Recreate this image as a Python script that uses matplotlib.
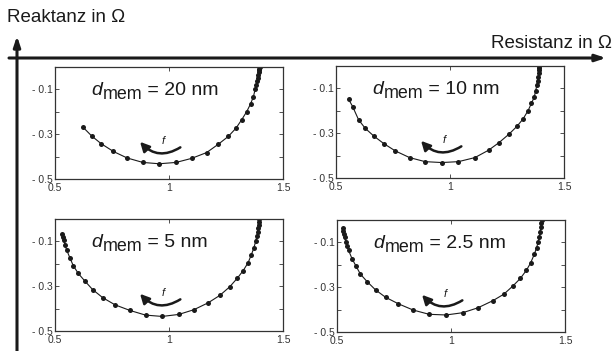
import matplotlib
matplotlib.use("Agg")
import matplotlib.pyplot as plt

plt.rcParams['font.family'] = ['Liberation Sans', 'DejaVu Sans']

# Nyquist data (resistance, reactance in Ohm)
labels = ["20 nm", "10 nm", "5 nm", "2.5 nm"]

r_20 = [0.624, 0.661, 0.702, 0.756, 0.816, 0.885, 0.957, 1.031, 1.099, 1.165,
        1.216, 1.260, 1.294, 1.319, 1.341, 1.358, 1.370, 1.378, 1.383, 1.387,
        1.390, 1.392, 1.394, 1.395, 1.396, 1.397]
x_20 = [-0.270, -0.308, -0.342, -0.377, -0.406, -0.426, -0.432, -0.426, -0.408, -0.382,
        -0.345, -0.310, -0.273, -0.235, -0.199, -0.164, -0.133, -0.100, -0.080, -0.062,
        -0.047, -0.034, -0.023, -0.014, -0.007, 0.000]

r_10 = [0.555, 0.573, 0.599, 0.628, 0.665, 0.709, 0.760, 0.823, 0.891, 0.964,
        1.037, 1.109, 1.169, 1.215, 1.259, 1.293, 1.320, 1.342, 1.357, 1.369,
        1.376, 1.381, 1.384, 1.387, 1.389, 1.390, 1.391, 1.392]
x_10 = [-0.148, -0.181, -0.240, -0.278, -0.312, -0.346, -0.379, -0.409, -0.427, -0.431,
        -0.427, -0.409, -0.376, -0.342, -0.304, -0.270, -0.237, -0.200, -0.167, -0.140,
        -0.110, -0.085, -0.065, -0.048, -0.033, -0.020, -0.009, 0.000]

r_5 = [0.531, 0.534, 0.538, 0.544, 0.551, 0.566, 0.580, 0.602, 0.631, 0.665,
       0.709, 0.763, 0.828, 0.897, 0.970, 1.043, 1.109, 1.172, 1.223, 1.266,
       1.299, 1.325, 1.347, 1.361, 1.372, 1.380, 1.385, 1.389, 1.391, 1.393,
       1.394, 1.395]
x_5 = [-0.067, -0.080, -0.095, -0.115, -0.138, -0.175, -0.208, -0.243, -0.277, -0.315,
       -0.351, -0.383, -0.408, -0.429, -0.435, -0.426, -0.405, -0.374, -0.341, -0.303,
       -0.265, -0.231, -0.195, -0.160, -0.130, -0.100, -0.078, -0.058, -0.040, -0.025,
       -0.012, 0.000]

r_25 = [0.526, 0.528, 0.531, 0.534, 0.538, 0.544, 0.551, 0.566, 0.584, 0.603,
        0.632, 0.669, 0.713, 0.769, 0.834, 0.904, 0.978, 1.051, 1.118, 1.184,
        1.232, 1.272, 1.304, 1.331, 1.349, 1.365, 1.375, 1.382, 1.387, 1.391,
        1.394, 1.396, 1.397]
x_25 = [-0.034, -0.049, -0.064, -0.078, -0.096, -0.115, -0.136, -0.173, -0.207, -0.242,
        -0.275, -0.312, -0.345, -0.374, -0.402, -0.421, -0.424, -0.414, -0.392, -0.360,
        -0.331, -0.294, -0.261, -0.224, -0.192, -0.154, -0.125, -0.100, -0.075, -0.052,
        -0.032, -0.015, -0.002]

series = [(r_20, x_20), (r_10, x_10), (r_5, x_5), (r_25, x_25)]

W, H = 613, 351
fig = plt.figure(figsize=(W / 100, H / 100), dpi=100)

# panel boxes in pixels: left, top
boxes = [(55, 67), (336, 66), (55, 219), (337, 220)]
bw, bh = 228, 112

ink = '#1a1a1a'
fs = 14
for (l, t), (r, x), lab in zip(boxes, series, labels):
    ax = fig.add_axes([l / W, 1 - (t + bh) / H, bw / W, bh / H])
    ax.plot(r, x, '-', color=ink, lw=0.8)
    ax.plot(r, x, 'o', color=ink, ms=3.6, mew=0)
    ax.set_xlim(0.5, 1.5)
    ax.set_ylim(-0.5, 0.0)
    ax.set_xticks([0.5, 1.0, 1.5])
    ax.set_xticklabels(['0.5', '1', '1.5'])
    ax.set_yticks([-0.5, -0.4, -0.3, -0.2, -0.1, 0.0])
    ax.set_yticklabels(['- 0.5', '', '- 0.3', '', '- 0.1', ''])
    ax.tick_params(direction='in', length=3, width=0.6, labelsize=7.5,
                   top=True, right=True, pad=1.5, colors='#333333')
    ax.tick_params(axis='x', pad=3)
    for s in ax.spines.values():
        s.set_linewidth(0.9)
        s.set_color('#333333')

    # d_mem label: subscript kept near full size, just lowered
    t1 = ax.text(0.66, -0.125, 'd', fontsize=fs, style='italic',
                 ha='left', va='baseline', color=ink)
    t2 = ax.annotate('mem', xy=(1, 0), xycoords=t1, xytext=(0.3, -3.2),
                     textcoords='offset points', fontsize=fs * 0.92,
                     ha='left', va='bottom', color=ink)
    ax.annotate(' = ' + lab, xy=(1, 0), xycoords=t2, xytext=(0, 3.2),
                textcoords='offset points', fontsize=fs,
                ha='left', va='bottom', color=ink)

    # frequency arrow
    ax.annotate('', xy=(0.865, -0.325), xytext=(1.06, -0.352),
                arrowprops=dict(arrowstyle='-|>,head_length=0.55,head_width=0.28',
                                color=ink, lw=1.8,
                                connectionstyle='arc3,rad=-0.45'))
    ax.text(0.975, -0.33, 'f', fontsize=8, style='italic', ha='center',
            va='center', color=ink)

# outer coordinate system
ov = fig.add_axes([0, 0, 1, 1], zorder=-1)
ov.set_xlim(0, W)
ov.set_ylim(H, 0)
ov.axis('off')
ov.annotate('', xy=(17, 36), xytext=(17, H + 2),
            arrowprops=dict(arrowstyle='-|>,head_length=0.6,head_width=0.2',
                            color=ink, lw=2.2, shrinkA=0, shrinkB=0))
ov.annotate('', xy=(606, 58), xytext=(9, 58),
            arrowprops=dict(arrowstyle='-|>,head_length=0.6,head_width=0.2',
                            color=ink, lw=2.2, shrinkA=0, shrinkB=0))
ov.text(7, 18, 'Reaktanz in Ω', fontsize=13.5, ha='left', va='center', color=ink)
ov.text(612, 44, 'Resistanz in Ω', fontsize=13.5, ha='right', va='center', color=ink)

fig.savefig('out.png', dpi=100)
